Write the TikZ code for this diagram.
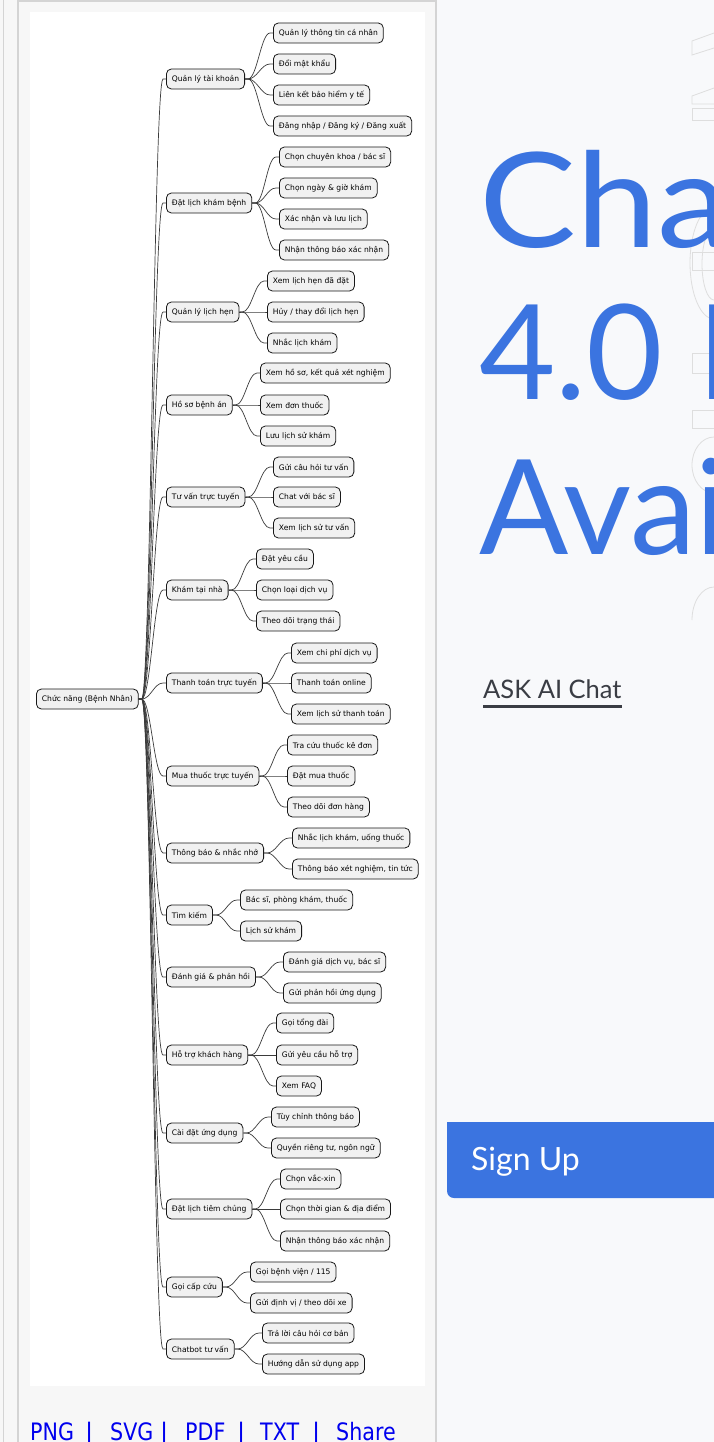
\documentclass[tikz,border=0pt]{standalone}
\usepackage{fontspec}
\usepackage{graphicx}
\setmainfont{DejaVu Sans}
\newfontfamily\headfont{Lato}
\usetikzlibrary{positioning}

\definecolor{pagebg}{HTML}{F8F9FB}
\definecolor{panelbg}{HTML}{F7F7F7}
\definecolor{panelline}{HTML}{D4D4D4}
\definecolor{nodefill}{HTML}{F1F1F1}
\definecolor{nodeline}{HTML}{181818}
\definecolor{headblue}{HTML}{3B74E0}
\definecolor{askgray}{HTML}{3A3D44}
\definecolor{linkblue}{HTML}{0000EE}

\begin{document}
\begin{tikzpicture}[x=1pt, y=-1pt,
  topic/.style={draw=nodeline, fill=nodefill, line width=0.8pt, rounded corners=5pt,
    minimum height=20pt, inner xsep=5.5pt, inner ysep=0pt, anchor=west,
    font=\fontsize{7.6}{9}\selectfont},
  link/.style={draw=nodeline!85, line width=0.7pt},
  weblink/.style={anchor=base west, inner sep=0pt, text=linkblue,
    font=\fontsize{24}{24}\selectfont},
  headline/.style={anchor=base west, inner sep=0pt, text=headblue,
    font=\headfont\fontsize{132}{132}\selectfont}]
  \useasboundingbox (0,0) rectangle (714,1442);
  % page, panel and diagram sheet
  \fill[pagebg] (0,0) rectangle (714,1442);
  \fill[panelbg] (0,0) rectangle (436,1442);
  \draw[panelline, line width=1.5pt] (3.5,0) -- (3.5,1442);
  \draw[panelline, line width=1.5pt] (18,1442) -- (18,1) -- (436,1) -- (436,1442);
  \fill[white] (30,12) rectangle (425,1386);

  % root
  \node[topic] (root) at (36,699) {Chức năng (Bệnh Nhân)};
  % first level
  \node[topic] (acc)      at (166,79)   {Quản lý tài khoản};
  \node[topic] (book)     at (166,203)  {Đặt lịch khám bệnh};
  \node[topic] (appt)     at (166,312)  {Quản lý lịch hẹn};
  \node[topic] (rec)      at (166,405)  {Hồ sơ bệnh án};
  \node[topic] (consult)  at (166,497)  {Tư vấn trực tuyến};
  \node[topic] (home)     at (166,590)  {Khám tại nhà};
  \node[topic] (pay)      at (166,683)  {Thanh toán trực tuyến};
  \node[topic] (drug)     at (166,776)  {Mua thuốc trực tuyến};
  \node[topic] (notif)    at (166,853)  {Thông báo \& nhắc nhở};
  \node[topic] (search)   at (166,915)  {Tìm kiếm};
  \node[topic] (review)   at (166,977)  {Đánh giá \& phản hồi};
  \node[topic] (support)  at (166,1055) {Hỗ trợ khách hàng};
  \node[topic] (settings) at (166,1133) {Cài đặt ứng dụng};
  \node[topic] (vaccine)  at (166,1209) {Đặt lịch tiêm chủng};
  \node[topic] (sos)      at (166,1287) {Gọi cấp cứu};
  \node[topic] (bot)      at (166,1349) {Chatbot tư vấn};
  % second level
  \node[topic] (acc1) at (273,33)  {Quản lý thông tin cá nhân};
  \node[topic] (acc2) at (273,64)  {Đổi mật khẩu};
  \node[topic] (acc3) at (273,95)  {Liên kết bảo hiểm y tế};
  \node[topic] (acc4) at (273,126) {Đăng nhập / Đăng ký / Đăng xuất};
  \node[topic] (book1) at (279,157) {Chọn chuyên khoa / bác sĩ};
  \node[topic] (book2) at (279,188) {Chọn ngày \& giờ khám};
  \node[topic] (book3) at (279,219) {Xác nhận và lưu lịch};
  \node[topic] (book4) at (279,250) {Nhận thông báo xác nhận};
  \node[topic] (appt1) at (267,281) {Xem lịch hẹn đã đặt};
  \node[topic] (appt2) at (267,312) {Hủy / thay đổi lịch hẹn};
  \node[topic] (appt3) at (267,343) {Nhắc lịch khám};
  \node[topic] (rec1) at (260,373) {Xem hồ sơ, kết quả xét nghiệm};
  \node[topic] (rec2) at (260,405) {Xem đơn thuốc};
  \node[topic] (rec3) at (260,436) {Lưu lịch sử khám};
  \node[topic] (consult1) at (273,467) {Gửi câu hỏi tư vấn};
  \node[topic] (consult2) at (273,497) {Chat với bác sĩ};
  \node[topic] (consult3) at (273,528) {Xem lịch sử tư vấn};
  \node[topic] (home1) at (256,559) {Đặt yêu cầu};
  \node[topic] (home2) at (256,590) {Chọn loại dịch vụ};
  \node[topic] (home3) at (256,621) {Theo dõi trạng thái};
  \node[topic] (pay1) at (291,653) {Xem chi phí dịch vụ};
  \node[topic] (pay2) at (291,683) {Thanh toán online};
  \node[topic] (pay3) at (291,714) {Xem lịch sử thanh toán};
  \node[topic] (drug1) at (287,745) {Tra cứu thuốc kê đơn};
  \node[topic] (drug2) at (287,776) {Đặt mua thuốc};
  \node[topic] (drug3) at (287,807) {Theo dõi đơn hàng};
  \node[topic] (notif1) at (292,838) {Nhắc lịch khám, uống thuốc};
  \node[topic] (notif2) at (292,869) {Thông báo xét nghiệm, tin tức};
  \node[topic] (search1) at (240,900) {Bác sĩ, phòng khám, thuốc};
  \node[topic] (search2) at (240,931) {Lịch sử khám};
  \node[topic] (review1) at (283,962) {Đánh giá dịch vụ, bác sĩ};
  \node[topic] (review2) at (283,993) {Gửi phản hồi ứng dụng};
  \node[topic] (support1) at (276,1023) {Gọi tổng đài};
  \node[topic] (support2) at (276,1055) {Gửi yêu cầu hỗ trợ};
  \node[topic] (support3) at (276,1086) {Xem FAQ};
  \node[topic] (settings1) at (271,1117) {Tùy chỉnh thông báo};
  \node[topic] (settings2) at (271,1148) {Quyền riêng tư, ngôn ngữ};
  \node[topic] (vaccine1) at (280,1179) {Chọn vắc-xin};
  \node[topic] (vaccine2) at (280,1209) {Chọn thời gian \& địa điểm};
  \node[topic] (vaccine3) at (280,1241) {Nhận thông báo xác nhận};
  \node[topic] (sos1) at (250,1272) {Gọi bệnh viện / 115};
  \node[topic] (sos2) at (250,1303) {Gửi định vị / theo dõi xe};
  \node[topic] (bot1) at (262,1333) {Trả lời câu hỏi cơ bản};
  \node[topic] (bot2) at (262,1364) {Hướng dẫn sử dụng app};

  % branches
  \foreach \g/\n in {acc/4, book/4, appt/3, rec/3, consult/3, home/3, pay/3, drug/3,
                     notif/2, search/2, review/2, support/3, settings/2, vaccine/3,
                     sos/2, bot/2} {
    \draw[link] (root.east) -- ++(3,0) .. controls +(9,0) and +(-9,0)
      .. ([xshift=-3pt]\g.west) -- (\g.west);
    \foreach \i in {1,...,\n}
      \draw[link] (\g.east) -- ++(3,0) .. controls +(9,0) and +(-9,0)
        .. ([xshift=-3pt]\g\i.west) -- (\g\i.west);
  }

  % export links under the sheet
  \node[weblink] (png)   at (30,1440)  {\scalebox{0.86}[1]{PNG}};
  \node[weblink] (bar1)  at (85,1440)  {|};
  \node[weblink] (svg)   at (110,1440) {\scalebox{0.86}[1]{SVG}};
  \node[weblink] (bar2)  at (160,1440) {|};
  \node[weblink] (pdf)   at (185,1440) {\scalebox{0.86}[1]{PDF}};
  \node[weblink] (bar3)  at (237,1440) {|};
  \node[weblink] (txt)   at (260,1440) {\scalebox{0.86}[1]{TXT}};
  \node[weblink] (bar4)  at (312,1440) {|};
  \node[weblink] (share) at (336,1440) {\scalebox{0.86}[1]{Share}};

  % web page on the right, cut by the window
  \begin{scope}
    \clip (437,0) rectangle (714,1442);
    % faint outline letters behind the title
    \begin{scope}[draw=black!13, line width=0.8pt]
      \draw (714,33) -- (692,41) -- (692,55) -- (714,48);
      \draw (714,88) -- (692,96) -- (692,104) -- (714,104);
      \draw (714,108) -- (692,108) -- (692,120) -- (714,120);
      \draw (714,207) arc[start angle=90, end angle=270, x radius=24, y radius=-56];
      \draw (714,228) arc[start angle=90, end angle=270, x radius=12, y radius=-36];
      \draw (714,252) -- (692,252) -- (692,270) -- (714,270);
      \draw (714,353) -- (692,353) -- (692,373) -- (714,373);
      \draw (714,410) -- (692,410) -- (692,428) -- (714,428);
      \draw (714,437) arc[start angle=90, end angle=270, x radius=22, y radius=-28];
      \draw (714,587) arc[start angle=90, end angle=180, x radius=22, y radius=-33];
    \end{scope}
    \node[headline] (head1) at (479,247) {\scalebox{1.1}[1]{ChatGPT}};
    \node[headline] (head2) at (479,399) {4.0 Now};
    \node[headline] (head3) at (479,554) {Available};
    \node[anchor=base west, inner sep=0pt, text=askgray,
      font=\headfont\fontsize{25.5}{26}\selectfont] (ask) at (483,698) {ASK AI Chat};
    \draw[askgray, line width=3pt] ([yshift=-8pt]ask.base west) -- ([yshift=-8pt]ask.base east);
    % sign up button
    \fill[headblue, rounded corners=7pt] (447,1122) rectangle (740,1198);
    \fill[headblue] (447,1122) rectangle (470,1150);
    \node[anchor=base west, inner sep=0pt, text=white,
      font=\headfont\fontsize{32}{32}\selectfont] (signup) at (471,1170) {Sign Up};
  \end{scope}
\end{tikzpicture}
\end{document}
